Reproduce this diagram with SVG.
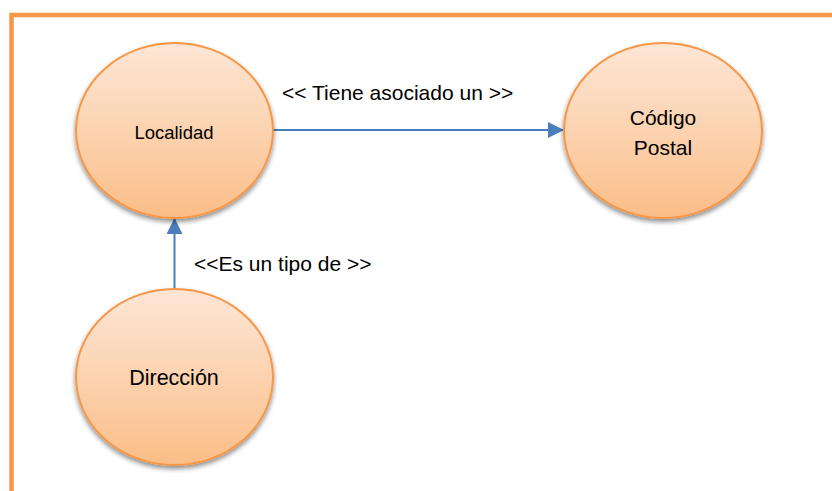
<svg xmlns="http://www.w3.org/2000/svg" width="832" height="491" viewBox="0 0 832 491">
<defs>
<linearGradient id="fillG" x1="0" y1="0" x2="0" y2="1">
<stop offset="0" stop-color="#fde6d6"/>
<stop offset="0.5" stop-color="#fcd3b0"/>
<stop offset="1" stop-color="#fbbd87"/>
</linearGradient>
<filter id="shadow" x="-20%" y="-20%" width="140%" height="150%">
<feGaussianBlur in="SourceAlpha" stdDeviation="2.5"/>
<feOffset dx="0" dy="3" result="b"/>
<feComponentTransfer><feFuncA type="linear" slope="0.45"/></feComponentTransfer>
<feMerge><feMergeNode/><feMergeNode in="SourceGraphic"/></feMerge>
</filter>
<marker id="arrow" viewBox="0 0 10 10" refX="10" refY="5" markerUnits="userSpaceOnUse" markerWidth="17" markerHeight="16" orient="auto">
<path d="M0,0 L10,5 L0,10 Z" fill="#4a7ebb"/>
</marker>
</defs>
<style>
.node ellipse{fill:url(#fillG);stroke:#f79646;stroke-width:2;filter:url(#shadow)}
.lbl{font-family:"Liberation Sans",Arial,sans-serif;font-size:21px;fill:#000;text-anchor:middle}
.conn{stroke:#4a7ebb;stroke-width:2;fill:none;marker-end:url(#arrow)}
.edge{font-family:"Liberation Sans",Arial,sans-serif;font-size:21px;fill:#000}
</style>
<rect width="832" height="491" fill="#fff"/>
<rect x="11.5" y="15" width="900" height="600" fill="none" stroke="#f79646" stroke-width="4.5"/>
<g id="connectors">
<line class="conn" x1="273" y1="130" x2="564" y2="130"/>
<line class="conn" x1="174.5" y1="289" x2="174.5" y2="218"/>
<text class="edge" x="282" y="100">&lt;&lt; Tiene asociado un &gt;&gt;</text>
<text class="edge" x="194" y="271">&lt;&lt;Es un tipo de &gt;&gt;</text>
</g>
<g id="localidad" class="node">
<ellipse cx="174.5" cy="130.5" rx="98.5" ry="87.5"/>
<text class="lbl" x="174" y="139" style="font-size:18.5px">Localidad</text>
</g>
<g id="codigo-postal" class="node">
<ellipse cx="663" cy="130.5" rx="99" ry="87.5"/>
<text class="lbl" x="663" y="125">Código</text>
<text class="lbl" x="663" y="155">Postal</text>
</g>
<g id="direccion" class="node">
<ellipse cx="174.5" cy="377" rx="98.5" ry="88"/>
<text class="lbl" x="174" y="385" style="font-size:21.5px">Dirección</text>
</g>
</svg>
